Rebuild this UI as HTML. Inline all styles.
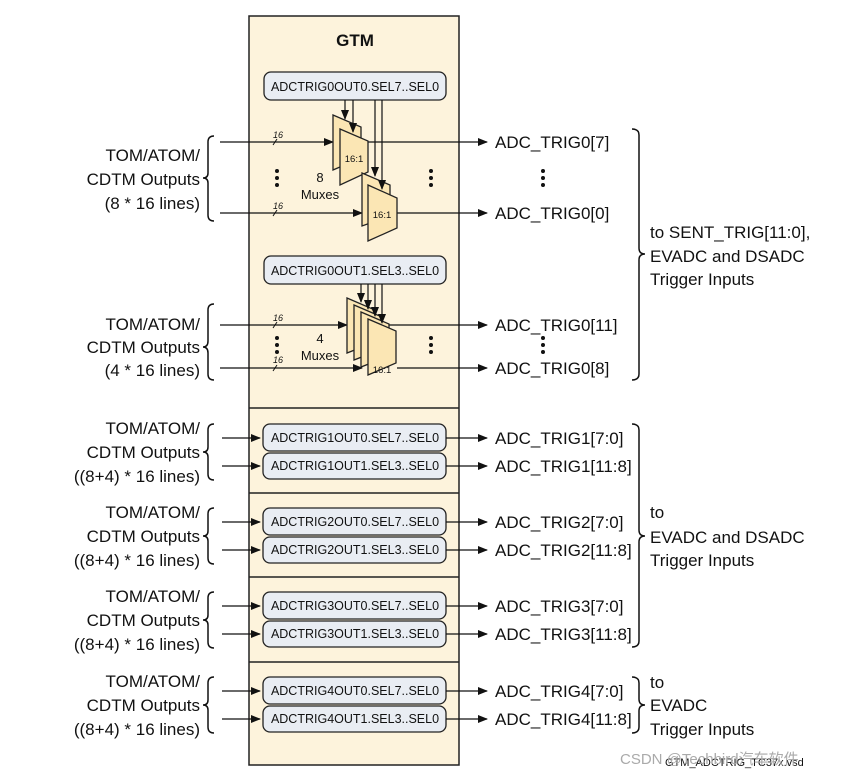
<!DOCTYPE html>
<html><head><meta charset="utf-8"><style>
html,body{margin:0;padding:0;background:#fff}
svg text{font-family:"Liberation Sans","DejaVu Sans",sans-serif;fill:#111}
.l{font-size:17px}
.r{font-size:12.5px}
.s{font-size:9px;font-style:italic}
</style></head><body>
<svg width="863" height="777" viewBox="0 0 863 777" xmlns="http://www.w3.org/2000/svg">
<defs>
<marker id="a" markerWidth="10" markerHeight="8" refX="9" refY="4" orient="auto" markerUnits="userSpaceOnUse"><path d="M0,0 L10,4 L0,8 z" fill="#111"/></marker>
</defs>
<rect x="249" y="16" width="210" height="749" fill="#fdf3dc" stroke="#222" stroke-width="1.5"/>
<line x1="249" y1="408" x2="459" y2="408" stroke="#222" stroke-width="1.5"/>
<line x1="249" y1="493" x2="459" y2="493" stroke="#222" stroke-width="1.5"/>
<line x1="249" y1="577" x2="459" y2="577" stroke="#222" stroke-width="1.5"/>
<line x1="249" y1="662" x2="459" y2="662" stroke="#222" stroke-width="1.5"/>
<text x="355" y="46" text-anchor="middle" style="font-size:17px;font-weight:bold">GTM</text>

<g stroke="#222" stroke-width="1.3" fill="#e9edf3">
<rect x="264" y="72" width="182" height="28" rx="7"/>
<rect x="264" y="256" width="182" height="28" rx="7"/>
<rect x="263" y="424" width="183" height="27" rx="7"/>
<rect x="263" y="453" width="183" height="26" rx="7"/>
<rect x="263" y="508" width="183" height="27" rx="7"/>
<rect x="263" y="537" width="183" height="26" rx="7"/>
<rect x="263" y="592" width="183" height="27" rx="7"/>
<rect x="263" y="621" width="183" height="26" rx="7"/>
<rect x="263" y="677" width="183" height="27" rx="7"/>
<rect x="263" y="706" width="183" height="26" rx="7"/>
</g>
<g class="r" text-anchor="middle">
<text x="355" y="91">ADCTRIG0OUT0.SEL7..SEL0</text>
<text x="355" y="275">ADCTRIG0OUT1.SEL3..SEL0</text>
<text x="355" y="442">ADCTRIG1OUT0.SEL7..SEL0</text>
<text x="355" y="470">ADCTRIG1OUT1.SEL3..SEL0</text>
<text x="355" y="526">ADCTRIG2OUT0.SEL7..SEL0</text>
<text x="355" y="554">ADCTRIG2OUT1.SEL3..SEL0</text>
<text x="355" y="610">ADCTRIG3OUT0.SEL7..SEL0</text>
<text x="355" y="638">ADCTRIG3OUT1.SEL3..SEL0</text>
<text x="355" y="695">ADCTRIG4OUT0.SEL7..SEL0</text>
<text x="355" y="723">ADCTRIG4OUT1.SEL3..SEL0</text>
</g>

<g stroke="#111" stroke-width="1.3">
<line x1="220" y1="142" x2="333" y2="142" marker-end="url(#a)"/>
<line x1="220" y1="213" x2="362" y2="213" marker-end="url(#a)"/>
<line x1="368" y1="142" x2="487" y2="142" marker-end="url(#a)"/>
<line x1="397" y1="213" x2="487" y2="213" marker-end="url(#a)"/>
<line x1="220" y1="325" x2="347" y2="325" marker-end="url(#a)"/>
<line x1="220" y1="368" x2="362" y2="368" marker-end="url(#a)"/>
<line x1="383" y1="325" x2="487" y2="325" marker-end="url(#a)"/>
<line x1="397" y1="368" x2="487" y2="368" marker-end="url(#a)"/>
</g>
<g stroke="#222" stroke-width="1.3" fill="#fbe6b4">
<path d="M333,115 L361,127 L361,158 L333,170 z"/>
<path d="M340,129 L368,141 L368,172 L340,185 z"/>
<path d="M362,173 L390,185 L390,216 L362,226 z"/>
<path d="M368,185 L397,198 L397,228 L368,241 z"/>
<path d="M347,298 L375,310 L375,342 L347,353 z"/>
<path d="M354,305 L382,317 L382,349 L354,360 z"/>
<path d="M361,312 L389,324 L389,356 L361,367 z"/>
<path d="M368,319 L396,331 L396,363 L368,375 z"/>
</g>
<g stroke="#111" stroke-width="1.2" fill="none">
<line x1="345" y1="100" x2="345" y2="119" marker-end="url(#a)"/>
<line x1="353" y1="100" x2="353" y2="132" marker-end="url(#a)"/>
<line x1="375" y1="100" x2="375" y2="176" marker-end="url(#a)"/>
<line x1="382" y1="100" x2="382" y2="189" marker-end="url(#a)"/>
<line x1="361" y1="284" x2="361" y2="302" marker-end="url(#a)"/>
<line x1="368" y1="284" x2="368" y2="309" marker-end="url(#a)"/>
<line x1="375" y1="284" x2="375" y2="316" marker-end="url(#a)"/>
<line x1="382" y1="284" x2="382" y2="323" marker-end="url(#a)"/>
</g>
<g style="font-size:9.5px" text-anchor="middle">
<text x="354" y="162">16:1</text>
<text x="382" y="218">16:1</text>
<text x="382" y="373">16:1</text>
</g>
<g class="s">
<text x="273" y="138">16</text><text x="273" y="209">16</text>
<text x="273" y="321">16</text><text x="273" y="363">16</text>
</g>
<g stroke="#111" stroke-width="1">
<line x1="273" y1="145" x2="277" y2="139"/><line x1="273" y1="216" x2="277" y2="210"/>
<line x1="273" y1="328" x2="277" y2="322"/><line x1="273" y1="371" x2="277" y2="365"/>
</g>
<g style="font-size:13px" text-anchor="middle">
<text x="320" y="182">8</text><text x="320" y="199">Muxes</text>
<text x="320" y="343">4</text><text x="320" y="360">Muxes</text>
</g>
<g fill="#111">
<circle cx="277" cy="171" r="2"/><circle cx="277" cy="178" r="2"/><circle cx="277" cy="185" r="2"/>
<circle cx="431" cy="171" r="2"/><circle cx="431" cy="178" r="2"/><circle cx="431" cy="185" r="2"/>
<circle cx="543" cy="171" r="2"/><circle cx="543" cy="178" r="2"/><circle cx="543" cy="185" r="2"/>
<circle cx="277" cy="338" r="2"/><circle cx="277" cy="345" r="2"/><circle cx="277" cy="352" r="2"/>
<circle cx="431" cy="338" r="2"/><circle cx="431" cy="345" r="2"/><circle cx="431" cy="352" r="2"/>
<circle cx="543" cy="338" r="2"/><circle cx="543" cy="345" r="2"/><circle cx="543" cy="352" r="2"/>
</g>

<g stroke="#111" stroke-width="1.3">
<line x1="222" y1="438" x2="260" y2="438" marker-end="url(#a)"/><line x1="222" y1="466" x2="260" y2="466" marker-end="url(#a)"/>
<line x1="222" y1="522" x2="260" y2="522" marker-end="url(#a)"/><line x1="222" y1="550" x2="260" y2="550" marker-end="url(#a)"/>
<line x1="222" y1="606" x2="260" y2="606" marker-end="url(#a)"/><line x1="222" y1="634" x2="260" y2="634" marker-end="url(#a)"/>
<line x1="222" y1="691" x2="260" y2="691" marker-end="url(#a)"/><line x1="222" y1="719" x2="260" y2="719" marker-end="url(#a)"/>
<line x1="446" y1="438" x2="487" y2="438" marker-end="url(#a)"/><line x1="446" y1="466" x2="487" y2="466" marker-end="url(#a)"/>
<line x1="446" y1="522" x2="487" y2="522" marker-end="url(#a)"/><line x1="446" y1="550" x2="487" y2="550" marker-end="url(#a)"/>
<line x1="446" y1="606" x2="487" y2="606" marker-end="url(#a)"/><line x1="446" y1="634" x2="487" y2="634" marker-end="url(#a)"/>
<line x1="446" y1="691" x2="487" y2="691" marker-end="url(#a)"/><line x1="446" y1="719" x2="487" y2="719" marker-end="url(#a)"/>
</g>

<g class="l">
<text x="495" y="148">ADC_TRIG0[7]</text>
<text x="495" y="219">ADC_TRIG0[0]</text>
<text x="495" y="331">ADC_TRIG0[11]</text>
<text x="495" y="374">ADC_TRIG0[8]</text>
<text x="495" y="444">ADC_TRIG1[7:0]</text>
<text x="495" y="472">ADC_TRIG1[11:8]</text>
<text x="495" y="528">ADC_TRIG2[7:0]</text>
<text x="495" y="556">ADC_TRIG2[11:8]</text>
<text x="495" y="612">ADC_TRIG3[7:0]</text>
<text x="495" y="640">ADC_TRIG3[11:8]</text>
<text x="495" y="697">ADC_TRIG4[7:0]</text>
<text x="495" y="725">ADC_TRIG4[11:8]</text>
<text x="650" y="238">to SENT_TRIG[11:0],</text>
<text x="650" y="262">EVADC and DSADC</text>
<text x="650" y="285">Trigger Inputs</text>
<text x="650" y="518">to</text>
<text x="650" y="543">EVADC and DSADC</text>
<text x="650" y="566">Trigger Inputs</text>
<text x="650" y="688">to</text>
<text x="650" y="711">EVADC</text>
<text x="650" y="735">Trigger Inputs</text>
</g>
<g class="l" text-anchor="end">
<text x="200" y="161">TOM/ATOM/</text><text x="200" y="185">CDTM Outputs</text><text x="200" y="209">(8 * 16 lines)</text>
<text x="200" y="330">TOM/ATOM/</text><text x="200" y="353">CDTM Outputs</text><text x="200" y="376">(4 * 16 lines)</text>
<text x="200" y="434">TOM/ATOM/</text><text x="200" y="458">CDTM Outputs</text><text x="200" y="482">((8+4) * 16 lines)</text>
<text x="200" y="518">TOM/ATOM/</text><text x="200" y="542">CDTM Outputs</text><text x="200" y="566">((8+4) * 16 lines)</text>
<text x="200" y="602">TOM/ATOM/</text><text x="200" y="626">CDTM Outputs</text><text x="200" y="650">((8+4) * 16 lines)</text>
<text x="200" y="687">TOM/ATOM/</text><text x="200" y="711">CDTM Outputs</text><text x="200" y="735">((8+4) * 16 lines)</text>
</g>
<g stroke="#111" stroke-width="1.5" fill="none">
<path d="M214,136 Q208,136 208,142 L208,173 Q208,178 203,178 Q208,178 208,183 L208,215 Q208,221 214,221"/>
<path d="M214,304 Q208,304 208,310 L208,341 Q208,347 203,347 Q208,347 208,353 L208,374 Q208,380 214,380"/>
<path d="M214,424 Q208,424 208,430 L208,447 Q208,452 203,452 Q208,452 208,457 L208,474 Q208,480 214,480"/>
<path d="M214,508 Q208,508 208,514 L208,531 Q208,536 203,536 Q208,536 208,541 L208,558 Q208,564 214,564"/>
<path d="M214,592 Q208,592 208,598 L208,615 Q208,620 203,620 Q208,620 208,625 L208,642 Q208,648 214,648"/>
<path d="M214,677 Q208,677 208,683 L208,700 Q208,705 203,705 Q208,705 208,710 L208,727 Q208,733 214,733"/>
<path d="M632,129 Q639,129 639,135 L639,248 Q639,254 645,254 Q639,254 639,260 L639,374 Q639,380 632,380"/>
<path d="M632,424 Q639,424 639,430 L639,530 Q639,536 645,536 Q639,536 639,542 L639,641 Q639,647 632,647"/>
<path d="M632,677 Q639,677 639,683 L639,699 Q639,705 645,705 Q639,705 639,711 L639,727 Q639,733 632,733"/>
</g>
<text x="665" y="766" style="font-size:11px">GTM_ADCTRIG_TC37x.vsd</text>
<text x="620" y="764" style="font-size:15px;fill:#aaa">CSDN @Techbird汽车软件</text>
</svg>
</body></html>
